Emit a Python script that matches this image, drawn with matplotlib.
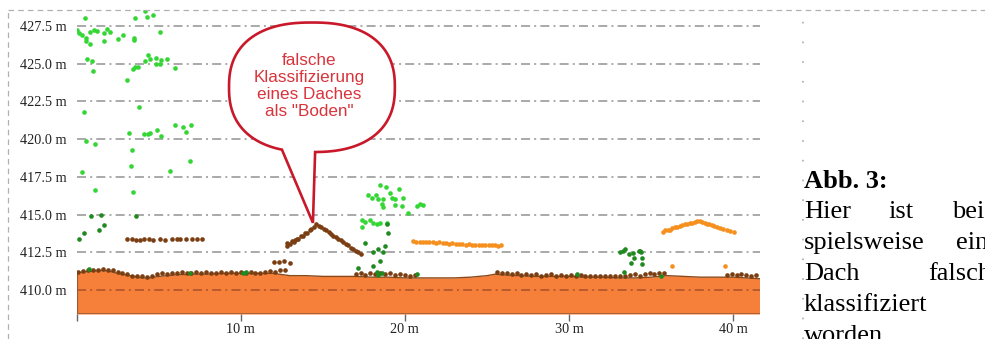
import numpy as np
import matplotlib.pyplot as plt
from matplotlib.patches import Polygon
from matplotlib.lines import Line2D

plt.rcParams['lines.scale_dashes'] = False

# terrain surface (x in m, height in m)
ground_x = [0, 0.5, 1.0, 1.5, 2.0, 2.5, 3.0, 3.5, 4.0, 4.5, 5.0, 5.5, 6.0, 7.0, 8.0, 9.0, 10.0, 11.0, 12.0,
            13.0, 14.0, 15.0, 16.0, 17.0, 18.0, 19.0, 20.0, 21.0, 22.0, 23.0, 24.0, 25.0, 25.5, 26.0, 27.0,
            28.0, 29.0, 30.0, 31.0, 32.0, 33.0, 34.0, 35.0, 36.0, 37.0, 38.0, 39.0, 40.0, 41.6]
ground_y = [411.15, 411.2, 411.25, 411.3, 411.25, 411.1, 411.0, 410.9, 410.8, 410.8, 410.9, 410.95, 411.0,
            411.05, 411.05, 411.1, 411.1, 411.1, 411.1, 410.95, 410.95, 410.9, 410.9, 410.9, 410.85, 410.85,
            410.8, 410.8, 410.8, 410.8, 410.85, 410.95, 411.05, 411.0, 410.95, 410.9, 410.9, 410.9, 410.85,
            410.85, 410.8, 410.8, 410.85, 410.95, 410.9, 410.85, 410.85, 410.85, 410.75]

# points classified as "Boden"
brown_x = [0.1, 0.4, 0.7, 1.0, 1.3, 1.6, 1.9, 2.2, 2.5, 2.8, 3.1, 3.4, 3.7, 4.0, 4.3, 4.6, 4.9, 5.2, 5.5, 5.8,
           6.1, 6.4, 6.7, 7.0, 7.3, 7.6, 7.9, 8.2, 8.5, 8.8, 9.1, 9.4, 9.7, 10.0, 10.3, 10.6, 10.9, 11.2, 11.5,
           11.8, 12.1, 12.4, 12.7,
           17.0, 17.3, 17.6, 17.9, 18.2, 18.5, 18.8, 19.1, 19.4, 19.7, 20.0, 20.3, 20.6,
           25.6, 25.9, 26.2, 26.5, 26.8, 27.1, 27.4, 27.7, 28.0, 28.3, 28.6, 28.9, 29.2, 29.5, 29.8, 30.1,
           30.4, 30.7, 31.0, 31.3, 31.6, 31.9, 32.2, 32.5, 32.8, 33.1, 33.4, 33.7, 34.0, 34.3, 34.6, 34.9,
           35.2, 35.5, 35.8,
           39.6, 39.9, 40.2, 40.5, 40.8, 41.1, 41.4,
           # misclassified roof
           12.8, 12.85, 13.0, 13.1, 13.25, 13.3, 13.4, 13.5, 13.65, 13.8, 13.9, 14.05, 14.2, 14.3, 14.45, 14.6,
           14.75, 14.9, 15.05, 15.2, 15.35, 15.5, 15.65, 15.8, 15.95, 16.1, 16.25, 16.4, 16.55, 16.7, 16.85,
           17.0, 17.15, 17.3,
           12.02, 12.32, 12.62, 12.99,
           3.09, 3.39, 3.65, 3.89, 4.14, 4.4, 4.67, 5.07, 5.42, 5.83, 6.13, 6.33, 6.64, 7.05, 7.35, 7.66]
brown_y = [411.2, 411.25, 411.3, 411.3, 411.35, 411.4, 411.3, 411.35, 411.2, 411.15, 411.05, 410.95, 410.9,
           410.9, 410.85, 410.95, 411.05, 411.1, 411.05, 411.15, 411.1, 411.2, 411.1, 411.15, 411.2, 411.1,
           411.2, 411.15, 411.1, 411.2, 411.15, 411.2, 411.1, 411.2, 411.15, 411.2, 411.1, 411.15, 411.2,
           411.25, 411.2, 411.3, 411.35,
           411.05, 411.1, 411.0, 411.1, 411.05, 411.15, 411.05, 411.1, 411.0, 411.05, 411.0, 410.95, 411.0,
           411.2, 411.15, 411.1, 411.05, 411.1, 411.0, 411.05, 411.0, 411.05, 410.95, 411.0, 411.05, 410.95,
           411.0, 410.95, 411.0, 410.95, 411.0, 410.9, 410.95, 410.9, 410.95, 410.9, 410.95, 410.9, 410.9,
           410.95, 411.0, 411.05, 410.95, 411.05, 411.1, 411.05, 411.1, 411.15,
           411.0, 411.05, 411.0, 411.05, 411.0, 410.95, 411.0,
           412.9, 413.1, 413.05, 413.25, 413.2, 413.3, 413.4, 413.35, 413.55, 413.6, 413.75, 413.8, 414.0,
           414.05, 414.2, 414.35, 414.25, 414.15, 414.05, 413.95, 413.85, 413.7, 413.6, 413.5, 413.4, 413.3,
           413.15, 413.05, 412.95, 412.8, 412.7, 412.6, 412.5, 412.4,
           411.88, 411.88, 411.92, 411.81,
           413.4, 413.35, 413.3, 413.3, 413.35, 413.35, 413.3, 413.35, 413.3, 413.35, 413.4, 413.35, 413.35,
           413.4, 413.4, 413.35]

# building points
orange_x = [20.5, 20.7, 20.9, 21.1, 21.3, 21.5, 21.7, 21.9, 22.1, 22.3, 22.5, 22.7, 22.9, 23.1, 23.3, 23.5,
            23.7, 23.9, 24.1, 24.3, 24.5, 24.7, 24.9, 25.1, 25.3, 25.5, 25.7, 25.85,
            35.7, 35.85, 36.0, 36.15, 36.3, 36.45, 36.6, 36.75, 36.9, 37.05, 37.2, 37.35, 37.5, 37.65, 37.8,
            37.95, 38.1, 38.25, 38.4, 38.55, 38.7, 38.85, 39.0, 39.2, 39.4, 39.6, 39.8, 40.05,
            36.27, 39.51]
orange_y = [413.25, 413.2, 413.2, 413.15, 413.2, 413.15, 413.15, 413.1, 413.15, 413.1, 413.1, 413.05, 413.1,
            413.05, 413.05, 413.05, 413.0, 413.05, 413.0, 413.0, 413.0, 412.95, 413.0, 412.95, 412.95, 412.95,
            412.9, 412.95,
            413.85, 413.95, 414.0, 414.0, 414.1, 414.15, 414.2, 414.25, 414.3, 414.35, 414.4, 414.45, 414.45,
            414.5, 414.55, 414.55, 414.5, 414.45, 414.4, 414.35, 414.3, 414.25, 414.2, 414.1, 414.05, 414.0,
            413.9, 413.85,
            411.56, 411.56]

# high vegetation
green_x = [0.49, 0.04, 0.13, 0.35, 0.55, 0.85, 1.04, 1.26, 1.65, 1.87, 2.07, 0.55, 0.85, 1.65, 2.55, 2.84,
           3.48, 3.58, 4.2, 4.3, 4.66, 5.1, 3.53,
           0.61, 0.95, 0.99, 3.08, 3.45, 3.58, 3.75, 4.2, 4.33, 4.5, 4.86, 4.86, 5.17, 5.51, 6.02, 5.1,
           0.45, 3.83,
           0.55, 1.1, 3.22, 3.38, 4.1, 4.34, 4.46, 4.9, 5.15, 6.02, 6.46, 6.69, 6.99, 6.93,
           3.32, 0.35, 5.71, 1.1, 3.42,
           18.48, 18.84, 19.09, 19.65, 17.77, 17.97, 18.27, 18.38, 18.68, 19.19, 19.39, 19.86, 18.58, 18.68,
           19.39, 19.8, 20.2, 20.71, 20.91, 21.11, 17.37, 17.57, 17.87, 18.07, 18.28, 18.48, 17.37, 18.89]
green_y = [428.0, 427.2, 427.0, 426.9, 426.7, 427.1, 427.2, 427.15, 427.0, 427.3, 427.1, 426.5, 426.3, 426.5,
           426.6, 426.9, 426.7, 428.0, 428.5, 428.1, 428.2, 427.1, 426.55,
           425.33, 425.15, 424.5, 423.9, 424.67, 424.78, 424.8, 425.15, 425.55, 425.33, 425.38, 425.0,
           425.22, 425.29, 424.71, 425.0,
           421.8, 422.13,
           419.9, 419.7, 420.4, 419.3, 420.33, 420.33, 420.4, 420.6, 420.22, 420.9, 420.78, 420.44, 420.9,
           418.55,
           418.2, 417.8, 417.9, 416.6, 416.5,
           416.93, 416.85, 416.44, 416.71, 416.27, 416.11, 416.27, 416.0, 416.0, 416.11, 416.04, 416.11,
           415.73, 415.51, 415.6, 415.56, 415.11, 415.56, 415.67, 415.6, 414.67, 414.49, 414.67, 414.44,
           414.4, 414.44, 414.18, 414.44]

# low vegetation
dkgreen_x = [0.89, 1.5, 1.7, 1.36, 0.45, 0.18, 3.65,
             18.99, 18.9, 17.57, 18.07, 18.38, 18.68, 18.78, 18.48, 18.07, 17.16, 18.28, 18.38, 20.71, 18.6,
             33.11, 33.27, 33.43, 33.68, 33.88, 33.98, 33.78, 34.24, 34.39, 34.42, 34.45, 33.37, 34.3,
             0.75, 6.89, 10.13, 10.3, 30.5, 35.6]
dkgreen_y = [414.9, 415.0, 414.33, 414.0, 413.8, 413.4, 414.9,
             413.78, 414.35, 413.11, 412.49, 412.71, 412.55, 412.93, 411.89, 411.56, 411.44, 411.22, 411.0,
             411.07, 411.1,
             412.51, 412.56, 412.71, 412.4, 412.44, 412.11, 411.78, 412.56, 412.49, 412.11, 411.73, 411.16,
             412.6,
             411.4, 411.15, 411.1, 411.2, 411.05, 410.95]

y_ticks = [410.0, 412.5, 415.0, 417.5, 420.0, 422.5, 425.0, 427.5]
x_ticks = [0, 10, 20, 30, 40]
x_labels = ['', '10 m', '20 m', '30 m', '40 m']

callout = 'falsche\nKlassifizierung\neines Daches\nals "Boden"'
caption_head = 'Abb. 3:'

W, H = 985, 339
fig = plt.figure(figsize=(W / 100, H / 100), dpi=100)
ax = fig.add_axes([76.5 / W, 1 - 314 / H, (760 - 76.5) / W, 304 / H])
ax.set_xlim(0, 41.63)
ax.set_ylim(408.41, 428.55)

# terrain
ax.fill_between(ground_x, 408.41, ground_y, color='#f6803a', lw=0, zorder=1)
ax.plot(ground_x, ground_y, color='#8a4a1c', lw=1.0, zorder=2)
ax.plot([0, 0], [408.41, ground_y[0]], color='#9a5a30', lw=0.9, zorder=2)
ax.axhline(408.41, color='#a05a35', lw=1.2, zorder=2)

# dash-dot grid (the one inside the terrain shows in dark orange)
for yt in y_ticks:
    inside = yt < 411
    ax.axhline(yt, color='#a9502a' if inside else '#6e6e6e', alpha=1 if inside else 0.75, lw=1.1,
               zorder=2.5 if inside else 1.5, linestyle=(0, (6.5, 3.0, 1.4, 3.0)))

ms = 11
ax.scatter(brown_x, brown_y, s=ms, color='#7a3e12', lw=0, zorder=4)
ax.scatter(orange_x, orange_y, s=ms, color='#f5901f', lw=0, zorder=4)
ax.scatter(green_x, green_y, s=ms, color='#33d633', lw=0, zorder=4)
ax.scatter(dkgreen_x, dkgreen_y, s=ms, color='#1f8a1f', lw=0, zorder=4)

for s in ax.spines.values():
    s.set_visible(False)
ax.set_yticks(y_ticks)
ax.set_yticklabels([f'{v:.1f} m' for v in y_ticks], fontfamily='Liberation Serif', fontsize=10.3, color='#222')
ax.tick_params(axis='y', length=0, pad=7)
ax.set_xticks(x_ticks)
ax.set_xticklabels(x_labels, fontfamily='Liberation Serif', fontsize=10.3, color='#222')
ax.tick_params(axis='x', length=5, width=1, color='#666', pad=1.5)

# speech bubble pointing at the roof ridge
roof_i = int(np.argmax([y if 12.5 < x < 17.5 else 0 for x, y in zip(brown_x, brown_y)]))
tip = (brown_x[roof_i] - 0.2, brown_y[roof_i] + 0.1)
cx, cy, a, b, n = 14.34, 423.43, 5.05, 4.29, 2.4
t_r, t_l = -np.pi / 2 + 0.02, -np.pi / 2 - 0.3
t = np.linspace(t_r, t_l + 2 * np.pi, 300)
bx = cx + a * np.sign(np.cos(t)) * np.abs(np.cos(t)) ** (2 / n)
by = cy + b * np.sign(np.sin(t)) * np.abs(np.sin(t)) ** (2 / n)
pts = np.column_stack([np.append(bx, tip[0]), np.append(by, tip[1])])
ax.add_patch(Polygon(pts, closed=True, facecolor='white', edgecolor='#c8182a', lw=1.9, zorder=6,
                     joinstyle='miter'))
ax.text(cx - 0.15, cy + 0.1, callout, ha='center', va='center', color='#d8343c', fontsize=12.3,
        fontfamily='Liberation Sans', linespacing=1.18, zorder=7)

# page frame lines
fig.add_artist(Line2D([8 / W, 1], [1 - 10 / H] * 2, color='#b0b0b0', lw=0.9, linestyle=(0, (4, 3))))
fig.add_artist(Line2D([8 / W] * 2, [0, 1 - 10 / H], color='#b0b0b0', lw=0.9, linestyle=(0, (4, 3))))
fig.add_artist(Line2D([803 / W] * 2, [0, 1 - 10 / H], color='#b8b8b8', lw=1.4, linestyle=(0, (1.2, 13))))

# caption beside the chart (justified column, runs off the page edge)
serif = dict(fontfamily='Liberation Serif', fontsize=19, color='black', va='baseline')
fig.text(804 / W, 1 - 188 / H, caption_head, fontweight='bold', **serif)
caption_words = [('Hier', 804, 218), ('ist', 888, 218), ('bei-', 952, 218),
                 ('spielsweise', 804, 249), ('ein', 956, 249),
                 ('Dach', 804, 280), ('falsch', 928, 280),
                 ('klassifiziert', 804, 311),
                 ('worden.', 804, 342)]
for w, px, py in caption_words:
    fig.text(px / W, 1 - py / H, w, **serif)

fig.savefig('out.png', dpi=100)
